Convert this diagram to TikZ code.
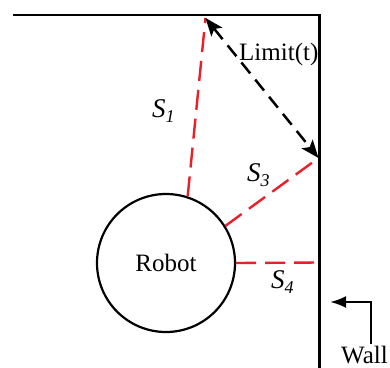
\documentclass[tikz,border=0pt]{standalone}
\usepackage{fontspec}
\setmainfont{Liberation Serif}
\usetikzlibrary{arrows.meta}
\definecolor{sred}{RGB}{236,30,40}
\newcommand\slab[2]{\fontsize{27}{30}\selectfont\textit{#1}\raisebox{-5pt}{\fontsize{18}{20}\selectfont\textit{#2}}}
\tikzset{
  wall/.style={line width=2.4pt, line join=miter},
  ray/.style={sred, line width=2.4pt, dash pattern=on 20pt off 9pt},
  limitarrow/.style={line width=2.5pt, dash pattern=on 14pt off 8pt,
    {Stealth[length=18pt,width=14pt,inset=4pt]}-{Stealth[length=18pt,width=14pt,inset=4pt]}},
  lbl/.style={inner sep=0pt, anchor=base west},
  txt/.style={font=\fontsize{25}{28}\selectfont}
}
\begin{document}
\begin{tikzpicture}[x=1pt,y=-1pt]
\useasboundingbox (0,0) rectangle (390,367);
% walls
\coordinate (tl) at (13,15);
\coordinate (tr) at (319.5,15);
\coordinate (br) at (319.5,372);
\draw[wall] (tl) -- (tr) -- (br);
% robot
\node[circle, draw, line width=2.2pt, minimum size=138pt, inner sep=0pt, txt] (robot) at (166,263) {Robot};
% contact points
\coordinate (ptop) at (205.5,18);
\coordinate (pright) at (318.5,158);
\coordinate (pside) at (318.5,262.5);
% rays
\draw[ray] (robot.72) -- (ptop);
\draw[ray] (robot.32) -- (pright);
\draw[ray] (robot.0) -- (pside);
% limit arrow
\draw[limitarrow] (ptop) -- (pright);
% labels
\node[lbl, txt] (limit) at (239,60) {Limit(t)};
\node[lbl] (s1) at (152,117) {\slab{S}{1}};
\node[lbl] (s3) at (247,181) {\slab{S}{3}};
\node[lbl] (s4) at (271,288) {\slab{S}{4}};
\node[lbl, txt] (walltext) at (341,363) {Wall};
% wall arrow
\coordinate (wa0) at (371,344);
\coordinate (wa1) at (330,302);
\draw[line width=2.4pt, -{Latex[length=16pt,width=12pt]}] (wa0) |- (wa1);
\end{tikzpicture}
\end{document}
